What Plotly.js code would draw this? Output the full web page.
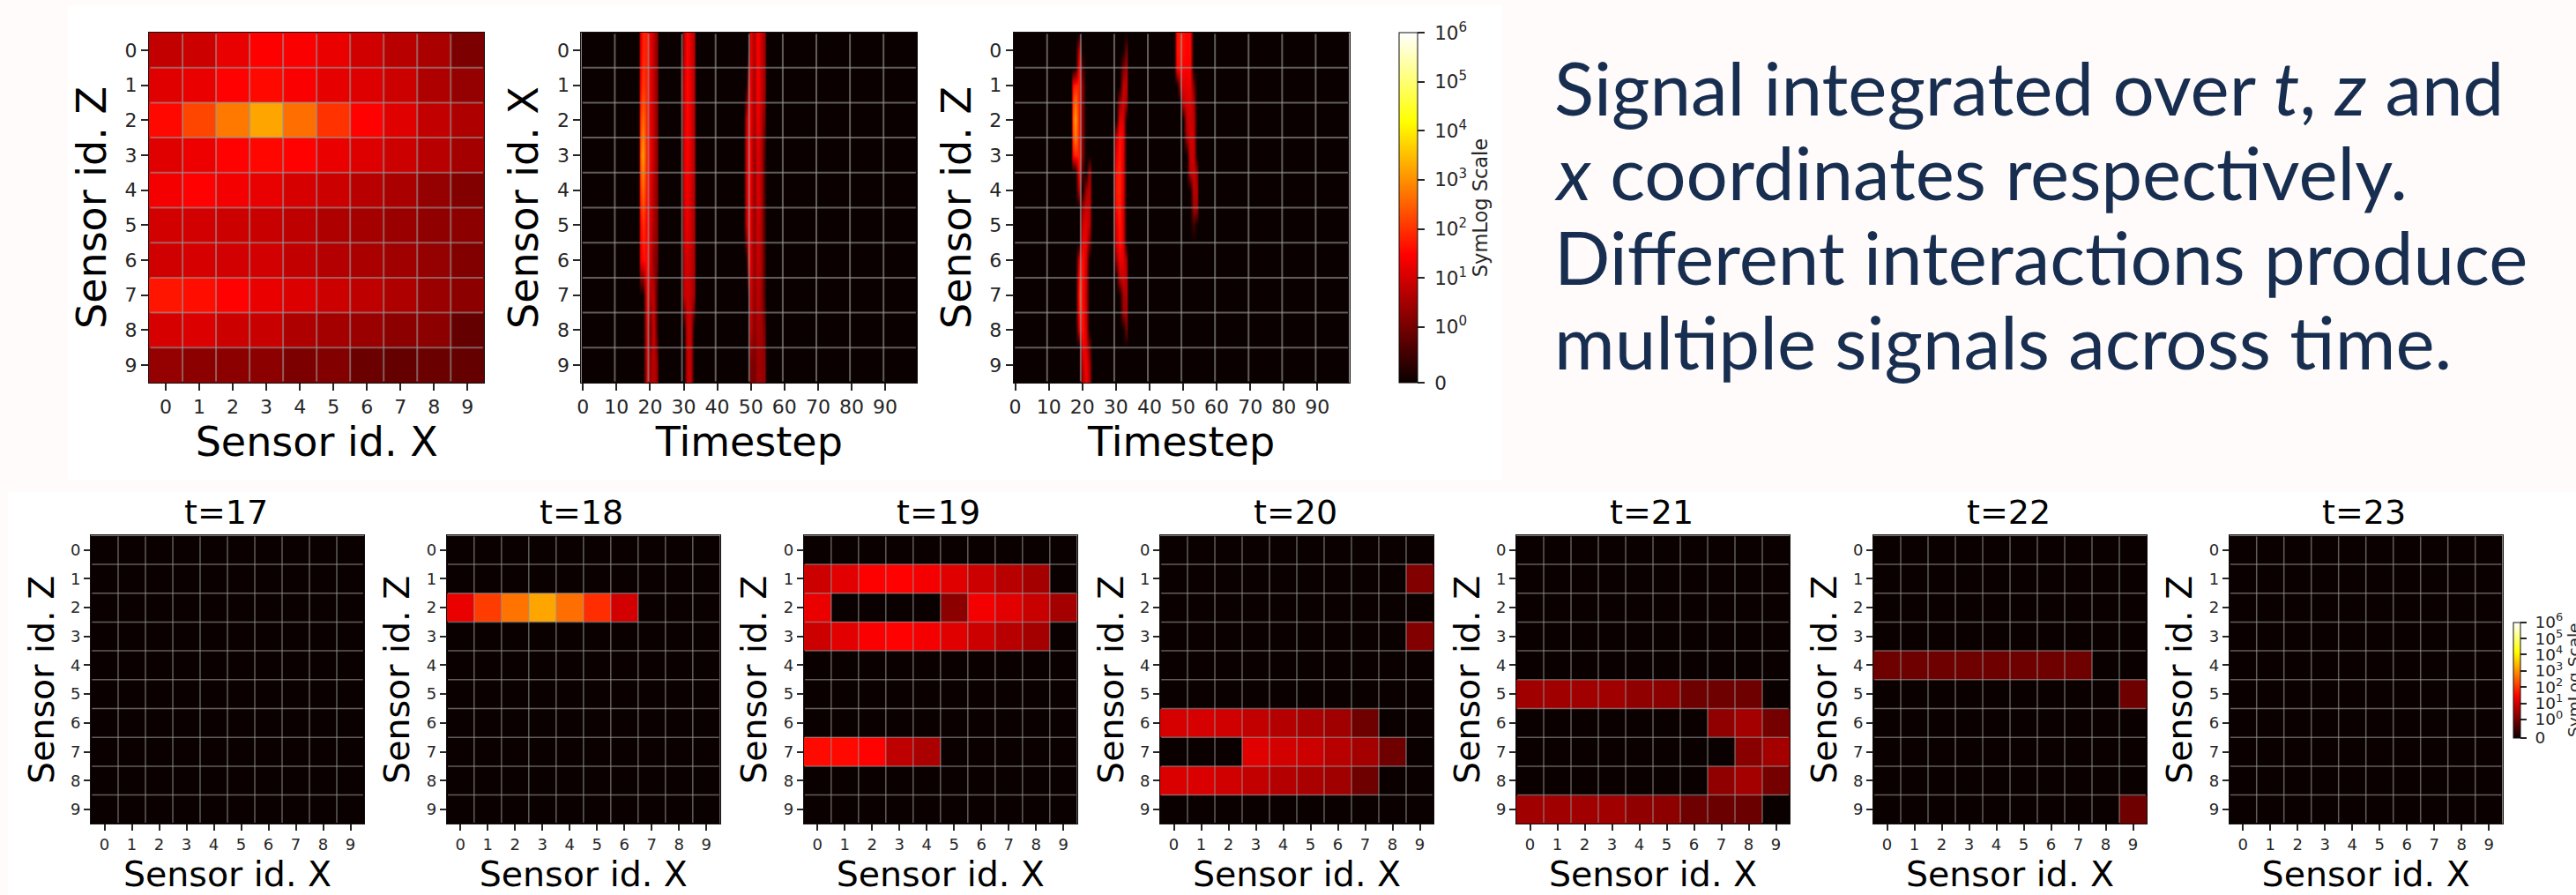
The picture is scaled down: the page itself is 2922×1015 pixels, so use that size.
<!DOCTYPE html>
<html><head><meta charset="utf-8">
<script src="https://cdn.plot.ly/plotly-3.0.1.min.js"></script>
<style>html,body{margin:0;padding:0;background:#fffbfa;overflow:hidden}</style>
</head><body><div id="chart" style="width:2922px;height:1015px"></div>
<script>
// ---------- DATA (signal values) ----------
const sensorIds = [0,1,2,3,4,5,6,7,8,9];
const timeTicks = [0,10,20,30,40,50,60,70,80,90];
const colorTicks = [0,1,10,100,1000,10000,100000,1000000];
const colorTickText = ['\u00a00','\u00a010<sup>0</sup>','\u00a010<sup>1</sup>','\u00a010<sup>2</sup>','\u00a010<sup>3</sup>','\u00a010<sup>4</sup>','\u00a010<sup>5</sup>','\u00a010<sup>6</sup>'];
const frameLabels = ['t=17','t=18','t=19','t=20','t=21','t=22','t=23'];

// integrated over t : rows Z, columns X
const overTime = [
 [6.8,8.7,17,29.5,26,18,9.3,5.3,3.7,1.2],
 [14,18,30,36,26,16,13,8.7,4.1,2.2],
 [36,165,560,1700,435,100,30,14,6.8,4.1],
 [14,20,30,34,30,18,13,8.7,5.3,3.2],
 [23,30,23,17,11,8.7,5.3,3.7,2.2,1.4],
 [10,9.8,8.7,7.7,6,4.1,3.2,2.5,2,1.75],
 [9.3,11,9.8,9.8,6.8,4.7,3.7,2.9,2.2,1.4],
 [49,42,30,18,12.5,8.7,6,4.1,2.5,1.75],
 [11,12.5,8.7,7.7,4.1,3.2,2.5,1.75,1.75,0.84],
 [2.2,1.75,1.75,1.75,1.2,1.4,0.89,0.84,0.89,0.84]
];

// integrated over z : rows X, sampled at these timesteps
const bTimes = [0, 16.6,17,18,19,20,21,22,22.7, 28.9,29.5,30,31,32,33,33.7, 47.8,48.5,49,50,51,52,53,54,54.6, 99];
const overZ = [
 [0, 0,15,70,60,20,6,1.5,0,      0,0,5,35,12,5,0,    0,0,0,20,4,30,8,2.5,0, 0],
 [0, 0,30,130,60,20,6,1.5,0,     0,1,8,40,15,5,0,    0,0,5,20,3,30,8,2.5,0, 0],
 [0, 0,100,450,75,18,6,1.5,0,    0,0.5,10,35,14,4,0, 0,6,25,20,3,22,6,1,0, 0],
 [0, 0,300,1500,65,25,6,1.5,0,   0,0,12,30,12,4,0,   0,8,30,20,2,15,5,0.5,0, 0],
 [0, 0,100,400,50,18,4,1.5,0,    0,0,10,25,10,4,0,   0,8,30,18,2,14,5,0.5,0, 0],
 [0, 0,25,100,30,14,3.5,1.5,0,   0,0,8,20,8,3.5,0,   0,6,25,15,2,10,4,0.5,0, 0],
 [0, 0,15,40,40,11,2,1,0,        0,0,6,12,7,3.5,0,   0,0,10,15,2,8,4,0.5,0, 0],
 [0, 0,0,0,26,5,6,0.5,0,         0,0,6,10,6,3,0,     0,0,0,12,2,6,3,0.5,0, 0],
 [0, 0,0,0,14,1,10,0.5,0,        0,0,0,8,7,0,0,      0,0,0,8,1.5,4,3,1,0, 0],
 [0, 0,0,0,10,3,6,2,0,           0,0,0,7,7,0,0,      0,0,0,1.5,1,3,2.5,2,0, 0]
];

// integrated over x : sampled along Z at half rows, one column per timestep
const cRows = [-0.5,0,0.5,1,1.5,2,2.5,3,3.5,4,4.5,5,5.5,6,6.5,7,7.5,8,8.5,9,9.5];
const cZero = [0,0,0,0,0,0,0,0,0,0,0,0,0,0,0,0,0,0,0,0,0];
const cT17  = [0,0,0,30,100,200,120,30,0,0,0,0,0,0,0,0,0,0,0,0,0];
const cT18  = [0,0,0,80,500,1500,700,80,0,0,0,0,0,0,0,0,0,0,0,0,0];
const cT19  = [0,6,40,60,60,60,60,60,40,6,0,0,0,10,40,70,40,10,0,0,0];
const cT20  = [0,0,0.5,1.4,1.4,1.4,1.4,1.4,0.5,0,3,10,25,50,50,45,50,50,25,8,3];
const cT21  = [0,0,0,0,0,0,0,0,0,3,10,15,16,10,8,6,8,10,14,25,25];
const cT22  = [0,0,0,0,0,0,0,0,4,6,6,5,1,0,0,0,0,0,1,3,4];
const cT30  = [0,0,0,0,0,0,6,20,40,50,35,15,10,2,0,0,0,0,0,0,0];
const cT31  = [0,0,0,0,2,15,50,60,70,70,70,60,50,20,6,0,0,0,0,0,0];
const cT32  = [0,0,1,6,8,12,20,15,15,15,12,12,15,15,10,3,2,0,0,0,0];
const cT33  = [0,1,4,6,3,0,0,0,0,0,0,0,0,3,5,5,3,1,0,0,0];
const cT48  = [40,40,30,0,0,0,0,0,0,0,0,0,0,0,0,0,0,0,0,0,0];
const cT49  = [60,60,50,5,0,0,0,0,0,0,0,0,0,0,0,0,0,0,0,0,0];
const cT50  = [40,40,30,15,8,0,0,0,0,0,0,0,0,0,0,0,0,0,0,0,0];
const cT51  = [30,30,25,15,10,6,3,0,0,0,0,0,0,0,0,0,0,0,0,0,0];
const cT52  = [30,35,30,20,14,10,10,8,5,0,0,0,0,0,0,0,0,0,0,0,0];
const cT53  = [0,0,0,1,4,6,8,8,8,6,3,0.5,0,0,0,0,0,0,0,0,0];
const cT54  = [0,0,0,0,0,0,0,0,2,4,3,0,0,0,0,0,0,0,0,0,0];
const cTimes = [0,16.6,17,18,19,20,21,22,22.8,29,30,31,32,33,33.7,47.4,48,49,50,51,52,53,54,54.7,99];
const cColumns = [cZero,cZero,cT17,cT18,cT19,cT20,cT21,cT22,cZero,cZero,cT30,cT31,cT32,cT33,cZero,cZero,cT48,cT49,cT50,cT51,cT52,cT53,cT54,cZero,cZero];

// single frames : rows Z, columns X
const e = [0,0,0,0,0,0,0,0,0,0];
const frameT17 = [e,e,e,e,e,e,e,e,e,e];
const frameT18 = [e,e,[18,129,500,1700,435,90,9.8,0,0,0],e,e,e,e,e,e,e];
const frameT19 = [e,
 [8.7,15,28,30,23,14,8.7,5.3,3.2,0],
 [18,0,0,0,0,1.75,23,15,7.7,3.2],
 [8.7,15,26,30,23,14,8.7,5.3,3.2,0],
 e,e,e,
 [38,36,30,6,3.7,0,0,0,0,0],
 e,e];
const frameT20 = [e,
 [0,0,0,0,0,0,0,0,0,1.4],
 e,
 [0,0,0,0,0,0,0,0,0,1.4],
 e,e,
 [11,11,9.3,6.8,4.7,3.7,2.9,0.93,0,0],
 [0,0,0,14,10,8.7,5.3,3.2,0.93,0],
 [12,12,9.3,6.8,4.7,3.7,2.9,0.93,0,0],
 e];
const frameT21 = [e,e,e,e,e,
 [2.9,2.9,2.9,2.9,2,1.75,0.93,0.93,0.93,0],
 [0,0,0,0,0,0,0,2,3.2,1],
 [0,0,0,0,0,0,0,0,1.6,3.2],
 [0,0,0,0,0,0,0,2,3.2,1],
 [2.9,2.9,2.9,2.9,2,1.75,0.93,0.89,0.89,0]];
const frameT22 = [e,e,e,e,
 [0.93,0.93,0.93,0.93,0.93,0.93,0.93,0.93,0,0],
 [0,0,0,0,0,0,0,0,0,0.93],
 e,e,e,
 [0,0,0,0,0,0,0,0,0,0.93]];
const frameT23 = [e,e,e,e,e,e,e,e,e,e];
const frames = [frameT17,frameT18,frameT19,frameT20,frameT21,frameT22,frameT23];

// ---------- helpers ----------
const W = 2922, H = 1015;
const LOW_SLOPE = 0.159, DECADE = (1 - LOW_SLOPE) / 6;
const symlog = v => v <= 0 ? 0 : (v < 1 ? v * LOW_SLOPE : Math.min(1, LOW_SLOPE + DECADE * Math.log10(v)));
const colMap = m => m.map(r => r.map(symlog));
const hot = [[0,'rgb(11,0,0)'],[0.365,'rgb(255,0,0)'],[0.746,'rgb(255,255,0)'],[1,'rgb(255,255,255)']];
const fx = p => p / W, fy = p => 1 - p / H;
const FONT = 'DejaVu Sans, sans-serif';
const TICKC = '#262626', GRID = 'rgba(150,150,150,0.62)';

const traces = [], shapes = [], annotations = [];
const layout = {
  width: W, height: H, margin: {l:0,r:0,t:0,b:0,pad:0,autoexpand:false},
  paper_bgcolor: '#fffbfa', plot_bgcolor: '#0b0000', showlegend: false,
  font: {family: FONT, color: '#000'}, shapes, annotations
};
// white cards behind the figures
[[77,6,1703.5,544],[9,558,2922,1015]].forEach(r => shapes.push({
  type:'rect', xref:'paper', yref:'paper', layer:'below',
  x0:fx(r[0]), x1:fx(r[2]), y0:fy(r[3]), y1:fy(r[1]), fillcolor:'#ffffff', line:{width:0}
}));

let idx = 0;
function addPanel(o) {
  idx++;
  const s = idx === 1 ? '' : String(idx);
  const xa = 'xaxis' + s, ya = 'yaxis' + s, xr = 'x' + s, yr = 'y' + s;
  const axisBase = {
    showgrid:false, zeroline:false, showline:true, mirror:true, linecolor:o.line||'#111', linewidth:1,
    ticks:'outside', ticklen:o.tick, tickwidth:1.5, tickcolor:TICKC, layer:'above traces',
    tickfont:{family:FONT,size:o.tickSize,color:TICKC}, automargin:false
  };
  layout[xa] = Object.assign({}, axisBase, {
    domain:[fx(o.box[0]),fx(o.box[1])], range:o.xRange, anchor:yr, tickmode:'array',
    tickvals:o.xTicks, ticktext:o.xTicks.map(String), tickangle:0,
    title:{text:o.xTitle, font:{family:FONT,size:o.titleSize,color:'#000'}, standoff:o.xStand}
  });
  layout[ya] = Object.assign({}, axisBase, {
    domain:[fy(o.box[3]),fy(o.box[2])], range:[9.5,-0.5], anchor:xr, tickmode:'array',
    tickvals:sensorIds, ticktext:sensorIds.map(String),
    title:{text:o.yTitle, font:{family:FONT,size:o.titleSize,color:'#000'}, standoff:o.yStand}
  });
  const t = {
    type:'heatmap', xaxis:xr, yaxis:yr, x:o.x, y:o.y, z:colMap(o.z),
    zmin:0, zmax:1, zauto:false, colorscale:hot, showscale:false,
    hoverinfo:'skip', zsmooth:o.smooth||false
  };
  if (o.bar) {
    t.showscale = true;
    t.colorbar = {
      thickness:o.bar.thick, thicknessmode:'pixels', len:o.bar.len, lenmode:'pixels',
      x:fx(o.bar.x), xanchor:'left', y:fy(o.bar.bottom), yanchor:'bottom', xpad:0, ypad:0,
      outlinecolor:'#111', outlinewidth:1, ticks:'outside', ticklen:o.bar.tick, tickwidth:1.5, tickcolor:TICKC,
      tickmode:'array', tickvals:colorTicks.map(symlog), ticktext:colorTickText,
      tickfont:{family:FONT,size:o.bar.font,color:TICKC},
      title:{text:'SymLog Scale', side:'right', font:{family:FONT,size:o.bar.titleFont,color:TICKC}}
    };
  }
  traces.push(t);
  // grid lines on top of the image
  o.xGrid.forEach(g => shapes.push({type:'line', layer:'above', xref:xr, yref:ya.replace('yaxis','y')+' domain',
    x0:g, x1:g, y0:0.004, y1:0.996, line:{color:GRID,width:o.gridW}}));
  o.yGrid.forEach(g => shapes.push({type:'line', layer:'above', xref:xa.replace('xaxis','x')+' domain', yref:yr,
    y0:g, y1:g, x0:0.004, x1:0.996, line:{color:GRID,width:o.gridW}}));
  if (o.head) annotations.push({xref:'paper',yref:'paper',xanchor:'center',yanchor:'middle',showarrow:false,
    x:fx((o.box[0]+o.box[1])/2 - 2), y:fy(o.box[2]-26), text:o.head, font:{family:FONT,size:38,color:'#000'}});
}

const cellEdges = [0.5,1.5,2.5,3.5,4.5,5.5,6.5,7.5,8.5];
const timeEdges = [9.5,19.5,29.5,39.5,49.5,59.5,69.5,79.5,89.5];
const topCommon = {tick:8, tickSize:22, titleSize:46, gridW:2, xStand:6, yGrid:cellEdges};

addPanel(Object.assign({}, topCommon, {box:[169,549.3,37,434], x:sensorIds, y:sensorIds, z:overTime,
  xRange:[-0.5,9.5], xTicks:sensorIds, xGrid:cellEdges, xTitle:'Sensor id. X', yTitle:'Sensor id. Z', yStand:6}));
addPanel(Object.assign({}, topCommon, {box:[659.3,1040.3,37,434], x:bTimes, y:sensorIds, z:overZ, smooth:'best',
  xRange:[-0.5,99.5], xTicks:timeTicks, xGrid:timeEdges, xTitle:'Timestep', yTitle:'Sensor id. X', yStand:6}));
addPanel(Object.assign({}, topCommon, {box:[1149.7,1530.5,37,434], x:cTimes, y:cRows,
  z:cRows.map((_,r) => cColumns.map(c => c[r])), smooth:'best',
  xRange:[-0.5,99.5], xTicks:timeTicks, xGrid:timeEdges, xTitle:'Timestep', yTitle:'Sensor id. Z', yStand:6,
  bar:{thick:20.7,len:397,x:1587.3,bottom:434,tick:8,font:21.5,titleFont:22.5}}));

const frameLeft = [103,506.8,911.8,1316,1720,2125,2528.7];
frames.forEach((f,i) => addPanel({
  box:[frameLeft[i],frameLeft[i]+310,607.3,934.3], x:sensorIds, y:sensorIds, z:f, head:frameLabels[i],
  tick:7, tickSize:18, titleSize:39.5, gridW:1.5, xStand:6, yStand:6, xRange:[-0.5,9.5], xTicks:sensorIds,
  xGrid:cellEdges, yGrid:cellEdges, xTitle:'Sensor id. X', yTitle:'Sensor id. Z',
  bar: i === 6 ? {thick:7.6,len:131.4,x:2850.7,bottom:836.7,tick:7,font:18.5,titleFont:18.5} : null
}));

// caption
const captionLines = ['Signal integrated over <i>t</i>, <i>z</i> and','<i>x</i> coordinates respectively.','Different interactions produce','multiple signals across time.'];
const captionY = [99,195,291,387];
captionLines.forEach((l,i) => annotations.push({xref:'paper',yref:'paper',xanchor:'left',yanchor:'middle',showarrow:false,
  x:fx(1761), y:fy(captionY[i]), text:l, font:{family:'Lato, sans-serif',size:83.5,color:'#182e50'}}));

Plotly.newPlot('chart', traces, layout, {displayModeBar:false, responsive:false});
</script></body></html>
